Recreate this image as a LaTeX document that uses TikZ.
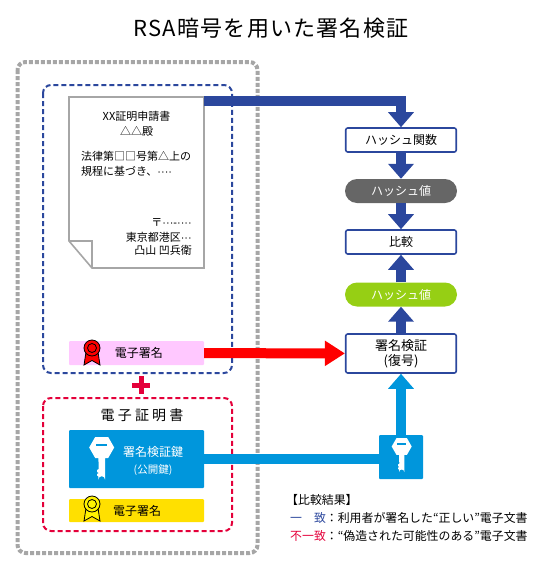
\documentclass[tikz,border=0pt]{standalone}
\usepackage{fontspec}
\setmainfont{Noto Sans CJK JP}
\newfontfamily\titlefont[LetterSpace=5.5]{Noto Sans CJK JP}
\newfontfamily\dotfont{Liberation Sans}
\usetikzlibrary{arrows.meta}
\definecolor{navyline}{HTML}{2B479D}
\definecolor{keyblue}{HTML}{0096DC}
\definecolor{crimsonline}{HTML}{E4003A}
\definecolor{dotgray}{HTML}{A6A6A6}
\definecolor{signpink}{HTML}{FFC8FF}
\definecolor{signyellow}{HTML}{FFE000}
\definecolor{pillgray}{HTML}{666666}
\definecolor{pillgreen}{HTML}{96CF14}
\tikzset{
    ribbon/.pic={
        \draw[fill=#1, line width=0.8pt] (-6,4) -- (-8,17) -- (0,12.5) -- (8,17) -- (6,4) -- cycle;
        \draw[fill=#1, line width=0.8pt] (0,0) circle (8);
        \draw[fill=#1, line width=0.8pt] (0,0) circle (4.5);
    },
    keyicon/.pic={
        \fill[white] (-6.5,-10.5) -- (6.5,-10.5) -- (12.5,0) -- (6.5,10.5) -- (3.3,10.5) -- (3.3,32)
            arc[start angle=0, end angle=-180, radius=3.3] -- (-3.3,29) -- (-4.5,28) -- (-4.5,26.5) -- (-3,25.5)
            -- (-4.5,24.5) -- (-4.5,22.5) -- (-3,21.5) -- (-3.3,10.5) -- (-6.5,10.5) -- (-12.5,0) -- cycle;
        \fill[keyblue] (-5.5,-4) rectangle (5.5,-2);
    }
}
\begin{document}
\begin{tikzpicture}[x=1pt, y=-1pt, font=\fontsize{11pt}{13pt}\selectfont,
    bararrow/.style={line width=10pt, -{Triangle[length=15pt, width=25pt]}},
    flowbox/.style={draw=navyline, line width=1.6pt, fill=white, rounded corners=2pt, minimum width=110.5pt, inner sep=0pt, font=\fontsize{12pt}{14pt}\selectfont, align=center},
    flowpill/.style={rounded corners=12pt, minimum width=112pt, minimum height=24pt, inner sep=0pt, text=white, font=\fontsize{12pt}{14pt}\selectfont},
    signbar/.style={rounded corners=1pt, minimum width=135pt, inner sep=0pt, font=\fontsize{12pt}{14pt}\selectfont}]
    \useasboundingbox (0,0) rectangle (544,571);

    \node (title) at (271,28) {\titlefont\fontsize{22pt}{24pt}\selectfont RSA暗号を用いた署名検証};

    \draw[dotgray, line width=4pt, dash pattern=on 4pt off 2pt, rounded corners=8pt] (17.5,62) rectangle (257.5,553);
    \draw[navyline, line width=2pt, dash pattern=on 5pt off 3pt, rounded corners=8pt] (43,85) rectangle (232,373);
    \draw[crimsonline, line width=2pt, dash pattern=on 5pt off 3pt, rounded corners=8pt] (43,398) rectangle (232,531);

    \draw[dotgray, line width=1.6pt, fill=white] (69,97) -- (204,97) -- (204,268) -- (92,268) -- (69,241) -- cycle;
    \draw[dotgray, line width=1.6pt] (69,241) -- (92,241) -- (92,268);
    \node (doctitle) at (136.5,116) {XX証明申請書};
    \node (docto) at (136.5,131) {△△殿};
    \node[anchor=west, inner sep=0pt] (docbodya) at (81,156) {法律第□□号第△上の};
    \node[anchor=west, inner sep=0pt] (docbodyb) at (81,171) {規程に基づき、{\dotfont ····}};
    \node[anchor=east, inner sep=0pt] (docpost) at (192,223) {〒{\dotfont ···-····}};
    \node[anchor=east, inner sep=0pt] (docaddr) at (192,237) {東京都港区{\dotfont ···}};
    \node[anchor=east, inner sep=0pt] (docname) at (192,250) {凸山 凹兵衛};
    \coordinate (docout) at (204,100.5);

    \node[signbar, fill=signpink, minimum height=24pt] (docsign) at (136.5,353) {\hspace{5pt}電子署名};
    \pic at (92,348) {ribbon=red};

    \draw[crimsonline, line width=5pt] (132,385) -- (150,385) (141,376) -- (141,394);

    \node (certtitle) at (142,415) {\fontsize{14pt}{16pt}\selectfont 電 子 証 明 書};
    \node[signbar, fill=keyblue, minimum height=58pt] (certkey) at (136.5,459) {};
    \node[text=white] (certkeya) at (153,452) {\fontsize{12pt}{14pt}\selectfont 署名検証鍵};
    \node[text=white] (certkeyb) at (153,470) {\fontsize{10.5pt}{12pt}\selectfont (公開鍵)};
    \pic at (101.7,447.5) {keyicon};
    \node[signbar, fill=signyellow, minimum height=23pt] (certsign) at (136.5,510.5) {\hspace{1pt}電子署名};
    \pic at (92,504) {ribbon=yellow};

    \node[flowbox, minimum height=24pt] (hashfn) at (401,140) {ハッシュ関数};
    \node[flowpill, fill=pillgray] (hashgray) at (401,191) {ハッシュ値};
    \node[flowbox, minimum height=24pt] (compare) at (401,242) {比較};
    \node[flowpill, fill=pillgreen] (hashgreen) at (401,294.5) {ハッシュ値};
    \node[flowbox, minimum height=39pt, font=\fontsize{13pt}{15pt}\selectfont] (verify) at (401,353.5) {署名検証\\(復号)};
    \node[fill=keyblue, rounded corners=1pt, minimum size=44pt, inner sep=0pt] (keybox) at (401,457) {};
    \pic[scale=0.8] at (401.7,446.5) {keyicon};

    \draw[bararrow, navyline] (docout) -| (hashfn.north);
    \draw[bararrow, navyline] (hashfn) -- (hashgray);
    \draw[bararrow, navyline] (hashgray) -- (compare);
    \draw[bararrow, navyline] (hashgreen) -- (compare);
    \draw[bararrow, navyline] (verify) -- (hashgreen);
    \draw[bararrow, red, -{Triangle[length=20pt, width=24pt]}] (docsign) -- (verify);
    \draw[line width=10pt, keyblue] (certkey) -- (certkey -| keybox.west);
    \draw[bararrow, keyblue] (keybox) -- (verify);

    \node[anchor=west, inner sep=0pt] (legendhead) at (286,500) {\fontsize{11.9pt}{14pt}\selectfont 【比較結果】};
    \node[anchor=west, inner sep=0pt] (legendok) at (290,518) {\fontsize{11.9pt}{14pt}\selectfont\textcolor{navyline}{一　致}：利用者が署名した“正しい”電子文書};
    \node[anchor=west, inner sep=0pt] (legendng) at (290,536) {\fontsize{11.9pt}{14pt}\selectfont\textcolor{crimsonline}{不一致}：“偽造された可能性のある”電子文書};
\end{tikzpicture}
\end{document}
